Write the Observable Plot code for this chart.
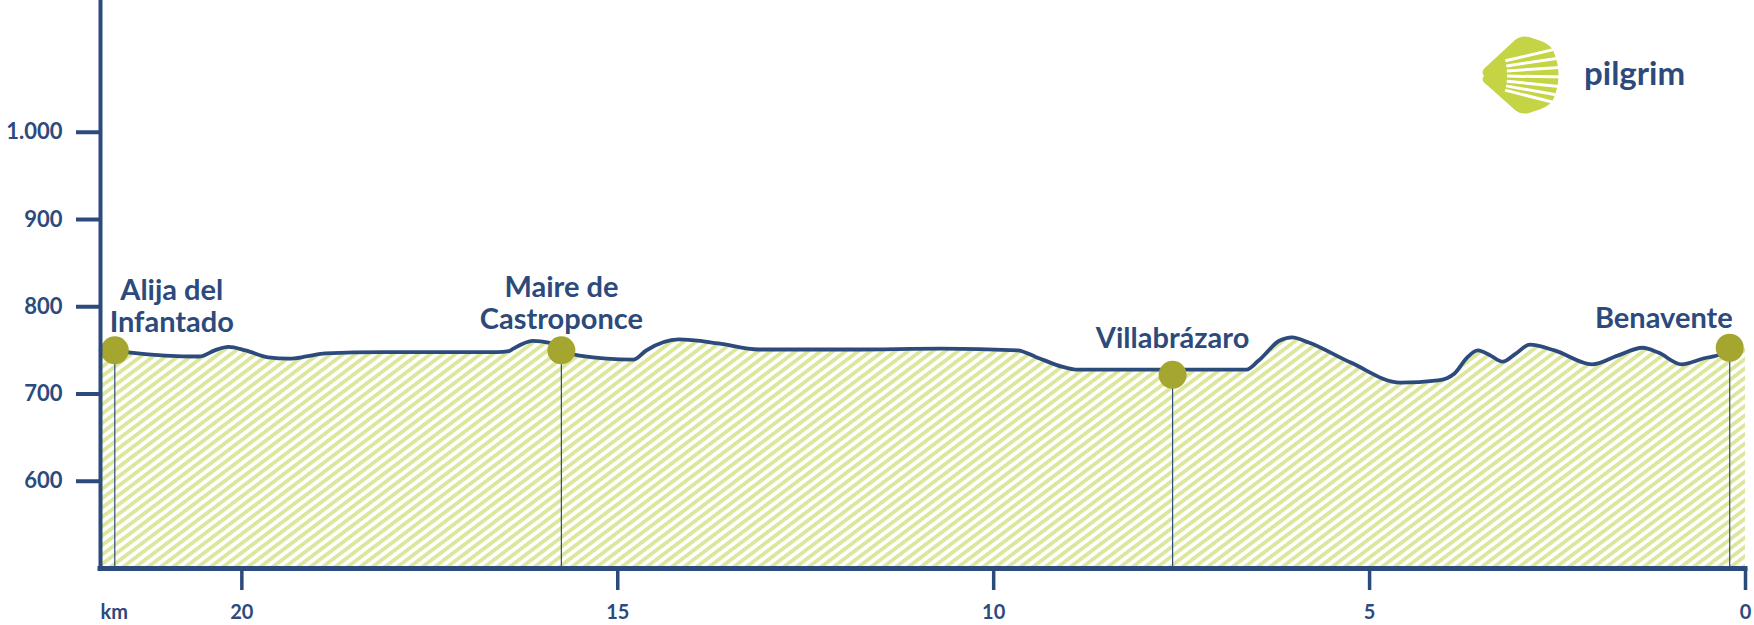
<!DOCTYPE html>
<html><head><meta charset="utf-8">
<script src="https://cdn.jsdelivr.net/npm/d3@7"></script>
<script src="https://cdn.jsdelivr.net/npm/@observablehq/plot@0.6"></script>
<style>
body{margin:0;background:#fff;}
#wrap{position:relative;width:1754px;height:625px;overflow:hidden;}
#logo{position:absolute;left:0;top:0;pointer-events:none;}
</style></head><body>
<svg width="0" height="0" style="position:absolute">
  <defs>
    <pattern id="hatch" patternUnits="userSpaceOnUse" width="10" height="7.5" patternTransform="rotate(-37)">
      <rect width="10" height="7.5" fill="#ffffff"/>
      <rect width="10" height="3.8" fill="#dce79d"/>
    </pattern>
  </defs>
</svg>
<div id="wrap"></div>
<script>
// ---- data ----
const profileKm = [21.88, 21.69, 21.48, 20.56, 20.36, 20.18, 19.95, 19.65, 19.37, 19.14, 18.89, 18.12, 16.60, 16.45, 16.39, 16.13, 15.92, 15.75, 15.51, 14.79, 14.62, 14.19, 13.66, 13.13, 11.88, 10.69, 9.68, 9.44, 9.08, 8.91, 8.58, 7.62, 6.64, 6.48, 6.20, 6.03, 5.81, 5.25, 4.59, 4.09, 3.87, 3.70, 3.56, 3.39, 3.23, 3.06, 2.87, 2.54, 2.04, 1.70, 1.37, 1.16, 0.85, 0.55, 0.32, 0.21, 0.00];
const profileElev = [750, 750, 747.5, 743, 750, 754, 750, 742, 740.5, 743, 746.5, 748, 748, 749, 752, 761, 759, 750, 744, 739.5, 750, 762.5, 758, 751, 751, 752, 750, 742.5, 731, 728, 728, 728, 728, 738, 761, 765, 759, 736, 713, 715.5, 723.5, 742, 750, 744, 737, 746, 756.5, 750, 734, 744, 753, 747.5, 734, 741, 746, 753, 757];
const townNames = ["Alija del\nInfantado", "Maire de\nCastroponce", "Villabrázaro", "Benavente"];
const townKm = [21.69, 15.75, 7.62, 0.21];
const townElev = [750, 750, 722, 753];
const yTicks = [600, 700, 800, 900, 1000];
const xTicks = [20, 15, 10, 5, 0];
const xDomain = [21.88, 0];
const yDomain = [500, 1151];
const xUnit = "km";
const brand = "pilgrim";

// ---- styles ----
const navy = "#2d4a7c";
const olive = "#a4a630";
const font = "Lato, 'Open Sans', sans-serif";
const labelLayout = [
  {dx: 57, dy: -18, lineHeight: 1.1, textAnchor: "middle"},
  {dx: 0, dy: -21, lineHeight: 1.12, textAnchor: "middle"},
  {dx: 0, dy: -27, lineHeight: 1, textAnchor: "middle"},
  {dx: 3, dy: -20, lineHeight: 1, textAnchor: "end"}
];

const profile = profileKm.map((k, i) => ({km: k, elev: profileElev[i]}));
const towns = townNames.map((n, i) => ({name: n, km: townKm[i], elev: townElev[i]}));
const esFormat = d3.formatLocale({decimal: ",", thousands: ".", grouping: [3], currency: ["", "€"]}).format(",");
const lastTownKm = d3.min(townKm);

const chart = Plot.plot({
  width: 1754,
  height: 625,
  marginLeft: 100,
  marginRight: 9,
  marginTop: 0,
  marginBottom: 57,
  style: {fontFamily: font, color: navy, background: "transparent", overflow: "visible"},
  x: {domain: xDomain},
  y: {domain: yDomain},
  marks: [
    Plot.areaY(profile, {x: "km", y1: yDomain[0], y2: "elev", curve: "monotone-x", fill: "url(#hatch)"}),
    Plot.ruleX(towns, {x: "km", y1: yDomain[0], y2: "elev", stroke: navy, strokeWidth: 1.2}),
    Plot.lineY(profile, {filter: d => d.km >= lastTownKm, x: "km", y: "elev", curve: "monotone-x", stroke: navy, strokeWidth: 3.8}),
    Plot.dot(towns, {x: "km", y: "elev", r: 14, fill: olive, stroke: null}),
    ...towns.map((t, i) => Plot.text([t], {
      x: "km", y: "elev", text: "name",
      dx: labelLayout[i].dx, dy: labelLayout[i].dy,
      lineHeight: labelLayout[i].lineHeight, lineAnchor: "bottom",
      textAnchor: labelLayout[i].textAnchor,
      fill: navy, fontSize: 29, fontWeight: 700
    })),
    Plot.ruleX([xDomain[0]], {y1: yDomain[0], y2: yDomain[1], stroke: navy, strokeWidth: 4}),
    Plot.ruleY([yDomain[0]], {x1: xDomain[0], x2: xDomain[1], stroke: navy, strokeWidth: 5, strokeLinecap: "square"}),
    Plot.axisY({ticks: yTicks, tickFormat: esFormat, tickSize: 24, tickPadding: 14, label: null, stroke: navy, strokeWidth: 4, fill: navy, fontSize: 22, fontWeight: 700}),
    Plot.axisX({ticks: xTicks, tickSize: 22, tickPadding: 14, label: null, stroke: navy, strokeWidth: 3.5, fill: navy, fontSize: 20, fontWeight: 700}),
    Plot.text([xUnit], {frameAnchor: "bottom-left", text: d => d, textAnchor: "start", lineAnchor: "top", dy: 36, fill: navy, fontSize: 20, fontWeight: 700})
  ]
});
document.getElementById("wrap").appendChild(chart);

// ---- logo (decoration) ----
const logo = d3.select("#wrap").append("svg").attr("id", "logo").attr("width", 1754).attr("height", 625);
const lime = "#c4d444";
logo.append("path")
  .attr("d", "M1484,76 Q1480,71 1487,66 L1515,40 Q1521,35 1529,37 L1541,41 Q1549,44 1553,50 Q1564,75 1553,100 Q1549,106 1541,109 L1529,113 Q1521,115 1515,110 L1487,85 Q1480,80 1484,76 Z")
  .attr("fill", lime);
const cx = 1445, cy = 75;
[-27, -17, -7.5, 2, 11.5, 20.5, 29].forEach(off => {
  const a = Math.atan2(off, 115);
  const r0 = 62, r1 = 135;
  logo.append("line")
    .attr("x1", cx + r0 * Math.cos(a)).attr("y1", cy + r0 * Math.sin(a))
    .attr("x2", cx + r1 * Math.cos(a)).attr("y2", cy + r1 * Math.sin(a))
    .attr("stroke", "#fff").attr("stroke-width", 3);
});
logo.append("text").attr("x", 1584).attr("y", 85).attr("fill", navy)
  .attr("font-family", font).attr("font-weight", 700).attr("font-size", 33).text(brand);
</script>
</body></html>
